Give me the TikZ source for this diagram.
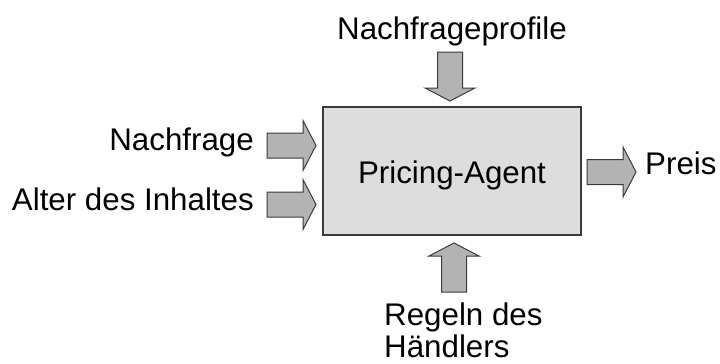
\documentclass[tikz,border=0pt]{standalone}
\usepackage{fontspec}
\setmainfont{Liberation Sans}
\definecolor{boxfill}{HTML}{DDDDDD}
\definecolor{arrowfill}{HTML}{B3B3B3}
\definecolor{edge}{HTML}{3A3A3A}
\tikzset{
  x=1pt, y=-1pt,
  lbl/.style={inner sep=0pt, font=\fontsize{31.3}{36}\selectfont, text=black},
  agentbox/.style={draw=edge, fill=boxfill, line width=1.2pt, inner sep=0pt,
    minimum width=258pt, minimum height=128pt},
  pics/blockarrow/.style={code={
    \draw[draw=edge, fill=arrowfill, line width=1pt, line join=miter]
      (0,-12.5) -- (36,-12.5) -- (36,-25) -- (49,0) -- (36,25) -- (36,12.5)
      -- (0,12.5) -- cycle;
  }}
}
\begin{document}
\begin{tikzpicture}
  \useasboundingbox (0,0) rectangle (720,364);

  % central agent
  \node[agentbox] (agent) at (452,171) {};
  \node[lbl, anchor=base] (agenttext) at (452,183) {Pricing-Agent};

  % inputs and output
  \pic at (267,145.5) {blockarrow};
  \pic at (267,204.5) {blockarrow};
  \pic at (587,172) {blockarrow};
  \pic[rotate=-90] at (450,52) {blockarrow};
  \pic[rotate=90] at (454,292) {blockarrow};

  % labels
  \node[lbl, anchor=base] (profile) at (452,39) {Nachfrageprofile};
  \node[lbl, anchor=base east] (demand) at (254,150) {Nachfrage};
  \node[lbl, anchor=base east] (age) at (254,210) {Alter des Inhaltes};
  \node[lbl, anchor=base west] (price) at (645,174) {Preis};
  \node[lbl, anchor=base west] (rules1) at (384,325) {Regeln des};
  \node[lbl, anchor=base west] (rules2) at (384,357) {Händlers};
\end{tikzpicture}
\end{document}
